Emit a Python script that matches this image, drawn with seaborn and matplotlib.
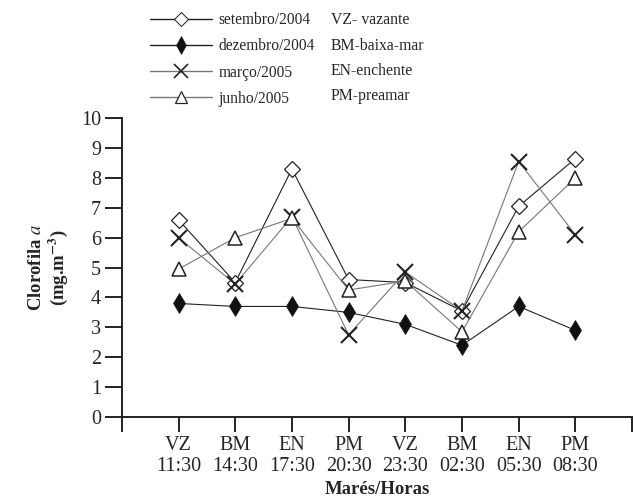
import numpy as np
import pandas as pd
import matplotlib
matplotlib.use("Agg")
import matplotlib.pyplot as plt
import seaborn as sns
from matplotlib.lines import Line2D

# values
mares = ["VZ", "BM", "EN", "PM", "VZ", "BM", "EN", "PM"]
horas = ["11:30", "14:30", "17:30", "20:30", "23:30", "02:30", "05:30", "08:30"]
setembro = [6.6, 4.5, 8.3, 4.6, 4.5, 3.55, 7.05, 8.65]
dezembro = [3.8, 3.7, 3.7, 3.5, 3.1, 2.4, 3.7, 2.9]
marco = [6.0, 4.45, 6.7, 2.75, 4.85, 3.55, 8.55, 6.1]
junho = [4.95, 6.0, 6.65, 4.25, 4.55, 2.85, 6.2, 8.0]
nomes = ["setembro/2004", "dezembro/2004", "março/2005", "junho/2005"]
siglas = ["VZ- vazante", "BM-baixa-mar", "EN-enchente", "PM-preamar"]

sns.set_style("ticks")
plt.rcParams['font.family'] = ['Liberation Serif', 'DejaVu Serif']
plt.rcParams['mathtext.fontset'] = 'stix'

pos = np.arange(1, 9)
df = pd.DataFrame({"pos": np.tile(pos, 4),
                   "valor": setembro + dezembro + marco + junho,
                   "serie": np.repeat(nomes, 8)})

fig = plt.figure(figsize=(6.33, 5.03), dpi=100)
ax = fig.add_axes([0.1925, 0.171, 0.806, 0.594])

estilos = {
    "setembro/2004": dict(color="#222222", marker="D", ms=8, mfc="white", mec="#222222", mew=0.9),
    "dezembro/2004": dict(color="#222222", marker="d", ms=10.5, mfc="#111111", mec="#111111", mew=0.5),
    "março/2005": dict(color="#777777", marker="x", ms=12, mec="#222222", mew=1.5),
    "junho/2005": dict(color="#777777", marker="^", ms=10, mfc="white", mec="#222222", mew=1.1),
}
for nome in nomes:
    st = estilos[nome]
    sub = df[df.serie == nome]
    sns.lineplot(data=sub, x="pos", y="valor", ax=ax, lw=0.8, legend=False,
                 color=st["color"], marker=st["marker"], markersize=st["ms"],
                 markerfacecolor=st.get("mfc", "none"), markeredgecolor=st["mec"],
                 markeredgewidth=st["mew"])

ax.set_xlim(0, 9)
ax.set_ylim(0, 10)
ax.set_xticks(np.arange(0, 10))
ax.set_xticklabels([""] + [m + "\n" + h for m, h in zip(mares, horas)] + [""])
ax.set_yticks(np.arange(0, 11))
ax.tick_params(axis="both", direction="out", labelsize=14.5, width=1.4, color="#222222")
ax.tick_params(axis="y", length=12, pad=3)
ax.tick_params(axis="x", length=11, pad=3)
for s in ["top", "right"]:
    ax.spines[s].set_visible(False)
for s in ["left", "bottom"]:
    ax.spines[s].set_linewidth(1.4)
    ax.spines[s].set_color("#222222")
for lab in ax.get_xticklabels():
    lab.set_linespacing(1.1)

ax.set_xlabel("Marés/Horas", fontsize=13.5, fontweight="bold", labelpad=4)
ax.set_ylabel("Clorofila " + r"$\mathbf{\mathit{a}}$" + "\n(mg.m$^{\\mathbf{-3}}$)",
              fontsize=13.5, fontweight="bold", labelpad=8, linespacing=1.1)

handles = []
for nome in nomes:
    st = estilos[nome]
    handles.append(Line2D([], [], color=st["color"], lw=1.0, marker=st["marker"],
                          markersize=st["ms"] * 0.85, markerfacecolor=st.get("mfc", "none"),
                          markeredgecolor=st["mec"], markeredgewidth=st["mew"] * 0.8))
fig.legend(handles, nomes, loc="upper left", bbox_to_anchor=(150 / 633, 1 - 12 / 503),
           frameon=False, borderpad=0, borderaxespad=0,
           fontsize=11.2, handlelength=4.0, labelspacing=0.66, handletextpad=0.4)

for i, s in enumerate(siglas):
    fig.text(331 / 633, 1 - (20 + i * 25.5) / 503, s, fontsize=11.3, va="center", ha="left")

fig.savefig("out.png", dpi=100)
